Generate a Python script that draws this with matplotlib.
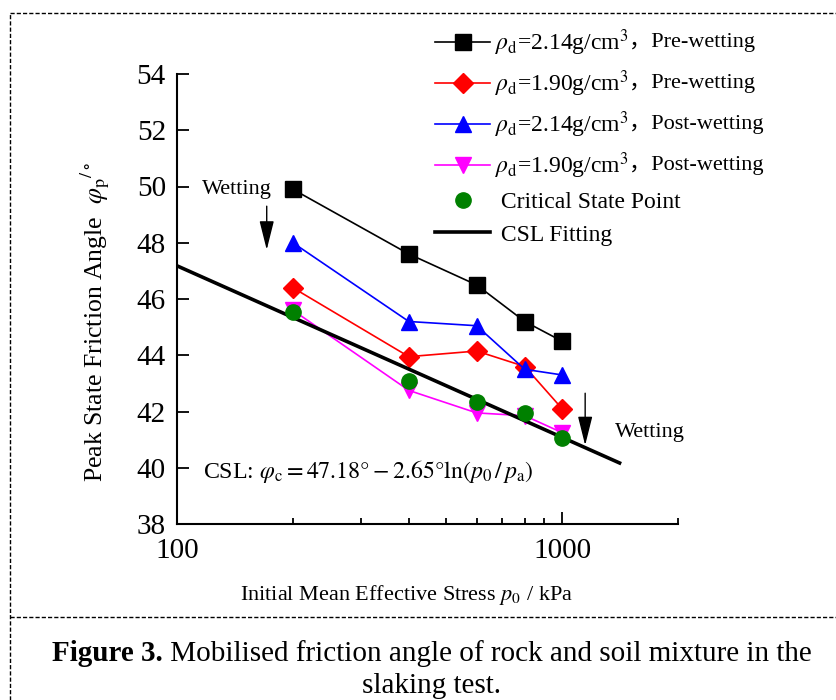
import numpy as np
import matplotlib.pyplot as plt
from matplotlib.lines import Line2D

plt.rcParams['font.family'] = ['Liberation Serif', 'Noto Sans CJK SC']
plt.rcParams['mathtext.fontset'] = 'stix'

# data
p0 = [200, 400, 600, 800, 1000]
phi_214_pre = [49.9, 47.6, 46.5, 45.2, 44.5]
phi_190_pre = [46.4, 43.95, 44.15, 43.6, 42.1]
phi_214_post = [48.0, 45.2, 45.05, 43.5, 43.3]
phi_190_post = [45.6, 42.75, 41.95, 41.85, 41.25]
phi_cs = [45.55, 43.1, 42.35, 41.95, 41.05]
csl_p = [100, 1410]
csl_phi = [47.18, 40.17]

labels = [r'$\rho_\mathrm{d}$=2.14g/cm$^3$', r'$\rho_\mathrm{d}$=1.90g/cm$^3$',
          r'$\rho_\mathrm{d}$=2.14g/cm$^3$', r'$\rho_\mathrm{d}$=1.90g/cm$^3$',
          ' Critical State Point', ' CSL Fitting']
suffix = ['，Pre-wetting', '，Pre-wetting', '，Post-wetting', '，Post-wetting']

W, H = 837, 700
fig = plt.figure(figsize=(W / 100, H / 100), dpi=100)
ax = fig.add_axes([177 / W, 176 / H, 501 / W, 450 / H])

h1, = ax.plot(p0, phi_214_pre, '-s', color='black', lw=1.2, ms=11)
h2, = ax.plot(p0, phi_190_pre, '-D', color='red', lw=1.2, ms=10)
h3, = ax.plot(p0, phi_214_post, '-^', color='blue', lw=1.2, ms=12)
h4, = ax.plot(p0, phi_190_post, '-v', color='magenta', lw=1.2, ms=12)
h6, = ax.plot(csl_p, csl_phi, '-', color='black', lw=2.6)
h5, = ax.plot(p0, phi_cs, 'o', color='green', ms=11, ls='none')

ax.set_xscale('log')
ax.set_xlim(100, 2000)
ax.set_ylim(38, 54)
ax.set_yticks(np.arange(38, 55, 2))
ax.set_xticks([100, 1000])
ax.set_xticklabels(['100', '1000'])
ax.set_xticks([200, 300, 400, 500, 600, 700, 800, 900, 2000], minor=True)
ax.xaxis.set_minor_formatter(plt.NullFormatter())
ax.tick_params(which='major', direction='in', length=8.5, width=1.3, labelsize=21, pad=8)
ax.tick_params(which='minor', direction='in', length=4.5, width=1.3)
ax.tick_params(axis='x', which='major', pad=10)
for s in ['top', 'right']:
    ax.spines[s].set_visible(False)
for s in ['left', 'bottom']:
    ax.spines[s].set_linewidth(1.5)

ax.set_xlabel(r'Initial Mean Effective Stress $p_0$ / kPa', fontsize=16, va='center')
ax.xaxis.set_label_coords((407 - 177) / 501, (524 - 595) / 450)
ax.set_ylabel(r'Peak State Friction Angle  $\varphi_\mathrm{p}{}^{/\circ}$', fontsize=18.5, va='center')
ax.yaxis.set_label_coords((95 - 177) / 501, (524 - 322) / 450)

# wetting arrows
arr = dict(arrowstyle='-|>,head_length=1.8,head_width=0.45', mutation_scale=10,
           color='black', lw=1, shrinkA=0, shrinkB=0)
ax.annotate('', xy=(171, 47.75), xytext=(171, 49.3), arrowprops=arr)
ax.annotate('', xy=(1148, 40.8), xytext=(1148, 42.65), arrowprops=arr)
ax.text(143.5, 49.88, 'Wetting', fontsize=16, ha='center', va='center')
ax.text(1374, 41.24, 'Wetting', fontsize=16, ha='left', va='center')
ax.text(117, 39.63, r'CSL: $\varphi_\mathrm{c}=47.18°-2.65°\ln(p_0\,/\,p_\mathrm{a})$',
        fontsize=17.2, ha='left', va='baseline')

leg = ax.legend([h1, h2, h3, h4, h5, h6], labels, fontsize=17, frameon=False,
                loc='upper left', bbox_to_anchor=(435 / W, 1 - 27 / H),
                bbox_transform=fig.transFigure, borderpad=0, borderaxespad=0,
                handlelength=2.35, handletextpad=0.2, labelspacing=0.45)

fig.canvas.draw()
r = fig.canvas.get_renderer()
for t, s in zip(leg.get_texts()[:4], suffix):
    bb = t.get_window_extent(r)
    fig.text(bb.x1 / W, (bb.y0 + bb.y1) / 2 / H, s, fontsize=16, ha='left', va='center')

# dashed frame around the figure
dash = dict(color='black', lw=1, ls=(0, (3, 1.5)), transform=fig.transFigure)
fig.add_artist(Line2D([10 / W, 1], [1 - 13 / H] * 2, **dash))
fig.add_artist(Line2D([10 / W, 10 / W], [0, 1 - 13 / H], **dash))
fig.add_artist(Line2D([10 / W, 1], [1 - 617 / H] * 2, **dash))

# caption
tb = fig.text(0, 0, 'Figure 3.', fontsize=21, fontweight='bold')
tr = fig.text(0, 0, ' Mobilised friction angle of rock and soil mixture in the', fontsize=21)
wb = tb.get_window_extent(r).width
wr = tr.get_window_extent(r).width
x0 = 432 - (wb + wr) / 2
tb.set_position((x0 / W, 1 - 661 / H))
tr.set_position(((x0 + wb) / W, 1 - 661 / H))
fig.text(432 / W, 1 - 693 / H, 'slaking test.', fontsize=21, ha='center')

fig.savefig('out.png', dpi=100)
